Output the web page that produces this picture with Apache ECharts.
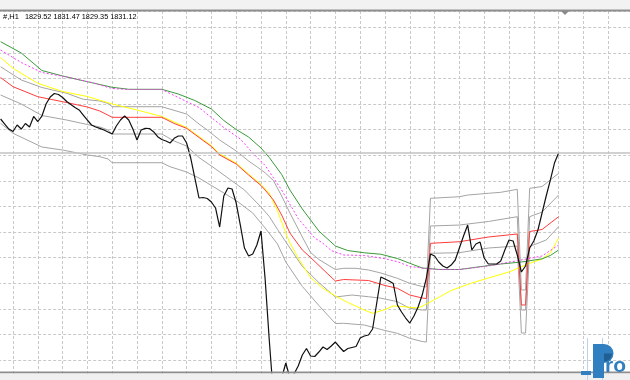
<!DOCTYPE html>
<html><head><meta charset="utf-8">
<script src="https://cdn.jsdelivr.net/npm/echarts@6/dist/echarts.min.js"></script>
<style>html,body{margin:0;padding:0;background:#fff;overflow:hidden}#c{width:630px;height:380px}</style>
</head><body><div id="c"></div>
<script>
// ---- data: [bar index, price] ----
const symbolLabel = '#,H1';
const ohlc = [1829.52, 1831.47, 1829.35, 1831.12];

const closeLine = [[-3,1837.07],[-2,1836.09],[-1,1835.11],[0,1834.63],[1,1835.90],[2,1835.11],[3,1836.19],[4,1835.51],[5,1837.56],[6,1836.58],[7,1837.65],[8,1840.00],[9,1841.36],[10,1842.05],[11,1841.85],[12,1841.27],[13,1840.49],[14,1839.90],[15,1839.31],[16,1838.83],[17,1837.85],[18,1836.87],[19,1835.90],[20,1835.51],[21,1835.25],[22,1834.92],[23,1834.53],[24,1834.14],[25,1835.70],[26,1836.87],[27,1837.65],[28,1836.87],[29,1835.11],[30,1832.97],[31,1834.92],[32,1835.25],[33,1835.21],[34,1834.59],[35,1833.61],[36,1833.06],[37,1832.77],[38,1832.38],[39,1833.30],[40,1833.75],[41,1833.75],[42,1832.38],[43,1829.45],[44,1825.54],[45,1821.64],[46,1821.74],[47,1821.54],[48,1820.86],[49,1819.69],[50,1815.97],[51,1822.03],[52,1823.59],[53,1823.40],[54,1820.66],[55,1816.36],[56,1811.87],[57,1810.31],[58,1810.70],[59,1812.46],[60,1815.19],[61,1805.82],[62,1793.90],[63,1783.16],[64,1784.14],[65,1786.48],[66,1789.41],[67,1786.48],[68,1787.26],[69,1788.83],[70,1790.97],[71,1792.24],[72,1790.78],[73,1790.68],[74,1791.56],[75,1792.54],[76,1792.05],[77,1792.73],[78,1793.51],[79,1792.54],[80,1791.66],[81,1792.24],[82,1792.44],[83,1792.64],[84,1794.30],[85,1794.69],[86,1794.88],[87,1796.05],[88,1801.13],[89,1806.21],[90,1805.82],[91,1805.43],[92,1804.94],[93,1800.74],[94,1799.37],[95,1798.20],[96,1797.22],[97,1798.59],[98,1800.35],[99,1802.69],[100,1806.01],[101,1810.70],[102,1810.31],[103,1809.14],[104,1808.36],[105,1807.97],[106,1808.55],[107,1809.53],[108,1811.87],[109,1814.22],[110,1816.36],[111,1811.48],[112,1812.65],[113,1813.04],[114,1809.92],[115,1808.75],[116,1808.75],[117,1808.75],[118,1809.33],[119,1811.48],[120,1813.44],[121,1813.24],[122,1810.51],[123,1807.19],[124,1808.36],[125,1811.87],[126,1813.24],[127,1815.39],[128,1818.71],[129,1822.03],[130,1825.15],[131,1828.47],[132,1830.43]];

const greenBand = [[-3,1852.17],[2,1849.96],[7,1846.54],[12,1845.47],[18,1844.35],[24,1843.26],[28,1842.87],[36,1842.87],[40,1841.95],[44,1840.68],[48,1839.02],[51,1836.78],[54,1835.02],[57,1833.55],[60,1831.40],[62,1829.55],[65,1826.23],[67,1823.20],[70,1819.49],[74,1815.19],[78,1812.26],[81,1811.38],[85,1810.94],[89,1810.66],[93,1809.82],[96,1808.89],[99,1807.97],[103,1807.69],[108,1807.67],[113,1808.22],[118,1808.75],[123,1809.14],[128,1809.76],[130,1810.41],[132,1811.48]];

const magentaBand = [[-3,1850.54],[2,1848.10],[7,1846.15],[13,1845.27],[19,1844.20],[24,1843.03],[28,1842.83],[36,1842.83],[42,1840.49],[45,1839.31],[51,1835.41],[55,1833.16],[58,1830.43],[61,1827.99],[65,1823.20],[69,1817.63],[73,1813.83],[75,1812.79],[77,1811.38],[80,1810.51],[85,1810.41],[90,1809.78],[93,1809.20],[96,1808.26],[100,1807.87],[103,1807.67],[108,1807.67],[115,1808.36],[122,1809.39],[128,1810.31],[132,1812.46]];

const yellowMA = [[-3,1849.08],[0,1846.97],[6,1844.04],[12,1842.44],[18,1841.46],[24,1840.00],[30,1838.83],[36,1837.56],[42,1835.41],[46,1833.06],[48,1831.89],[50,1830.23],[54,1828.47],[57,1826.33],[60,1824.28],[62,1822.61],[64,1819.10],[66,1814.80],[67,1812.85],[69,1809.92],[72,1806.11],[75,1804.00],[78,1802.50],[81,1801.23],[85,1799.76],[87,1799.12],[90,1799.86],[92,1800.55],[94,1800.45],[98,1800.15],[99,1800.49],[102,1801.81],[106,1803.57],[111,1805.04],[115,1806.01],[120,1807.19],[125,1808.89],[128,1809.73],[130,1810.90],[132,1813.83]];

const redMA = [[-3,1845.17],[0,1843.38],[6,1841.42],[12,1840.45],[18,1839.41],[21,1838.63],[24,1837.40],[36,1837.40],[39,1836.19],[42,1835.25],[46,1832.87],[48,1831.70],[50,1830.04],[54,1828.28],[57,1826.13],[60,1824.08],[61,1823.20],[63,1821.25],[65,1818.32],[67,1814.80],[70,1811.48],[72,1810.02],[76,1806.93],[78,1805.43],[80,1805.72],[86,1805.53],[90,1804.55],[93,1804.00],[96,1802.69],[99,1802.11],[100,1802.01],[101,1812.79],[108,1813.10],[115,1814.02],[122,1814.61],[123,1800.74],[124,1800.74],[125,1815.10],[128,1815.49],[132,1817.99]];

const grayUpper = [[-3,1847.28],[2,1844.69],[7,1843.22],[13,1842.09],[17,1840.92],[21,1840.58],[23,1840.10],[24,1839.47],[36,1839.47],[42,1838.04],[45,1836.09],[47,1834.92],[50,1832.97],[54,1830.82],[57,1828.87],[59,1827.75],[61,1826.56],[63,1825.06],[65,1822.03],[67,1818.71],[70,1814.02],[72,1810.99],[74,1809.63],[78,1807.67],[80,1807.91],[83,1807.91],[86,1807.58],[89,1806.99],[93,1805.95],[96,1804.98],[99,1804.35],[100,1804.26],[101,1821.58],[108,1821.89],[110,1822.22],[115,1822.56],[118,1822.75],[122,1823.34],[123,1803.67],[124,1803.67],[125,1823.53],[128,1823.88],[132,1826.46]];

const grayMid = [[-3,1841.76],[2,1840.00],[7,1837.75],[13,1836.87],[18,1835.99],[21,1835.51],[23,1834.92],[24,1834.14],[36,1834.14],[39,1832.77],[42,1831.79],[45,1829.55],[48,1827.89],[53,1824.96],[56,1823.20],[60,1819.88],[62,1818.03],[64,1815.49],[67,1811.87],[70,1808.28],[74,1805.13],[78,1802.30],[82,1802.69],[86,1802.36],[89,1802.07],[93,1801.39],[96,1800.10],[99,1799.76],[100,1799.76],[101,1816.17],[108,1816.36],[115,1817.05],[122,1817.99],[123,1799.76],[124,1799.76],[125,1817.99],[128,1818.90],[132,1822.22]];

const grayLower = [[-3,1836.23],[0,1834.28],[7,1831.60],[12,1831.01],[18,1830.04],[21,1829.71],[23,1829.26],[24,1828.53],[36,1828.53],[38,1827.75],[42,1826.72],[45,1825.54],[48,1824.08],[54,1821.15],[58,1818.71],[61,1815.78],[64,1812.65],[66,1809.14],[70,1804.37],[74,1800.64],[78,1797.13],[80,1797.17],[85,1796.83],[90,1795.76],[93,1795.21],[96,1794.24],[99,1793.61],[100,1793.51],[101,1810.84],[108,1810.96],[115,1811.87],[122,1812.26],[123,1795.27],[124,1795.27],[125,1812.17],[129,1813.44],[132,1816.03]];

const lastClose = closeLine[closeLine.length - 1][1];

// ---- chart ----
const chart = echarts.init(document.getElementById('c'), null, {renderer: 'canvas'});

const gridLine = {show: true, lineStyle: {color: '#c9c9c9', width: 1, type: [3, 2]}};
function lineSeries(name, data, color, extra) {
  return Object.assign({
    name: name, type: 'line', data: data, showSymbol: false, symbol: 'none',
    silent: true, animation: false,
    lineStyle: {color: color, width: 1}
  }, extra || {});
}

const option = {
  animation: false,
  backgroundColor: '#ffffff',
  grid: {left: -11.8, top: 11, width: 644.8, height: 374.6, outerBoundsMode: 'none', containLabel: false},
  xAxis: {
    type: 'value', min: -6, max: 150, interval: 6,
    axisLine: {show: false}, axisTick: {show: false}, axisLabel: {show: false},
    splitLine: gridLine
  },
  yAxis: {
    type: 'value', min: 1785, max: 1858.164, interval: 5,
    axisLine: {show: false}, axisTick: {show: false}, axisLabel: {show: false},
    splitLine: gridLine
  },
  series: [
    lineSeries('lower', grayLower, '#a4a4a4', {
      markLine: {
        silent: true, symbol: 'none', animation: false,
        label: {show: false},
        lineStyle: {color: '#c2c2c2', type: 'solid', width: 1.5},
        data: [{yAxis: lastClose}]
      }
    }),
    lineSeries('mid', grayMid, '#a4a4a4'),
    lineSeries('upper', grayUpper, '#a4a4a4'),
    lineSeries('yellow', yellowMA, '#ffff00'),
    lineSeries('red', redMA, '#ff3c3c'),
    lineSeries('green', greenBand, '#3a9a3a'),
    lineSeries('magenta', magentaBand, '#ff3cff', {lineStyle: {color: '#ff3cff', width: 1, type: [2, 2]}}),
    lineSeries('close', closeLine, '#111111', {lineStyle: {color: '#111111', width: 1.2}})
  ],
  graphic: [
    {type: 'rect', z: 100, silent: true, shape: {x: 0, y: 0, width: 630, height: 9.5}, style: {fill: '#f2f2f2'}},
    {type: 'rect', z: 100, silent: true, shape: {x: 0, y: 9.5, width: 630, height: 2}, style: {fill: '#8e8e8e'}},
    {type: 'polygon', z: 101, silent: true, shape: {points: [[561, 11], [569, 11], [565, 15]]}, style: {fill: '#8a8a8a'}},
    {type: 'text', z: 100, silent: true, x: 3, y: 17,
      style: {text: symbolLabel, fill: '#000', font: '7.5px "Liberation Sans", Arial, sans-serif', verticalAlign: 'middle'}},
    {type: 'text', z: 100, silent: true, x: 25, y: 17,
      style: {text: ohlc.map(v => v.toFixed(2)).join(' '), fill: '#000', font: '7.3px "Liberation Sans", Arial, sans-serif', verticalAlign: 'middle'}},
    {type: 'rect', z: 100, silent: true, shape: {x: 0, y: 371.5, width: 630, height: 2}, style: {fill: '#8e8e8e'}},
    {type: 'rect', z: 100, silent: true, shape: {x: 0, y: 373.5, width: 630, height: 6.5}, style: {fill: '#f0f0f0'}},
    // logo
    {type: 'line', z: 102, silent: true, shape: {x1: 587.5, y1: 338, x2: 587.5, y2: 380}, style: {stroke: '#b8d3ea', lineWidth: 1}},
    {type: 'line', z: 102, silent: true, shape: {x1: 602.5, y1: 338, x2: 602.5, y2: 380}, style: {stroke: '#b8d3ea', lineWidth: 1}},
    {type: 'rect', z: 103, silent: true, shape: {x: 581, y: 371, width: 10, height: 4}, style: {fill: '#2f7fc1'}},
    {type: 'rect', z: 103, silent: true, shape: {x: 593, y: 344, width: 11, height: 34}, style: {fill: '#2f7fc1'}},
    {type: 'sector', z: 103, silent: true, shape: {cx: 604, cy: 353.5, r: 9.5, r0: 0, startAngle: -Math.PI / 2, endAngle: Math.PI / 2}, style: {fill: '#2f7fc1'}},
    {type: 'sector', z: 104, silent: true, shape: {cx: 604, cy: 353.5, r: 8, r0: 0, startAngle: 0, endAngle: Math.PI / 2}, style: {fill: '#1f5f93'}},
    {type: 'text', z: 103, silent: true, x: 605, y: 377,
      style: {text: 'ro', fill: '#2f7fc1', font: 'bold 21px "Liberation Sans", Arial, sans-serif', verticalAlign: 'bottom'}}
  ]
};
chart.setOption(option);
</script>
</body></html>
